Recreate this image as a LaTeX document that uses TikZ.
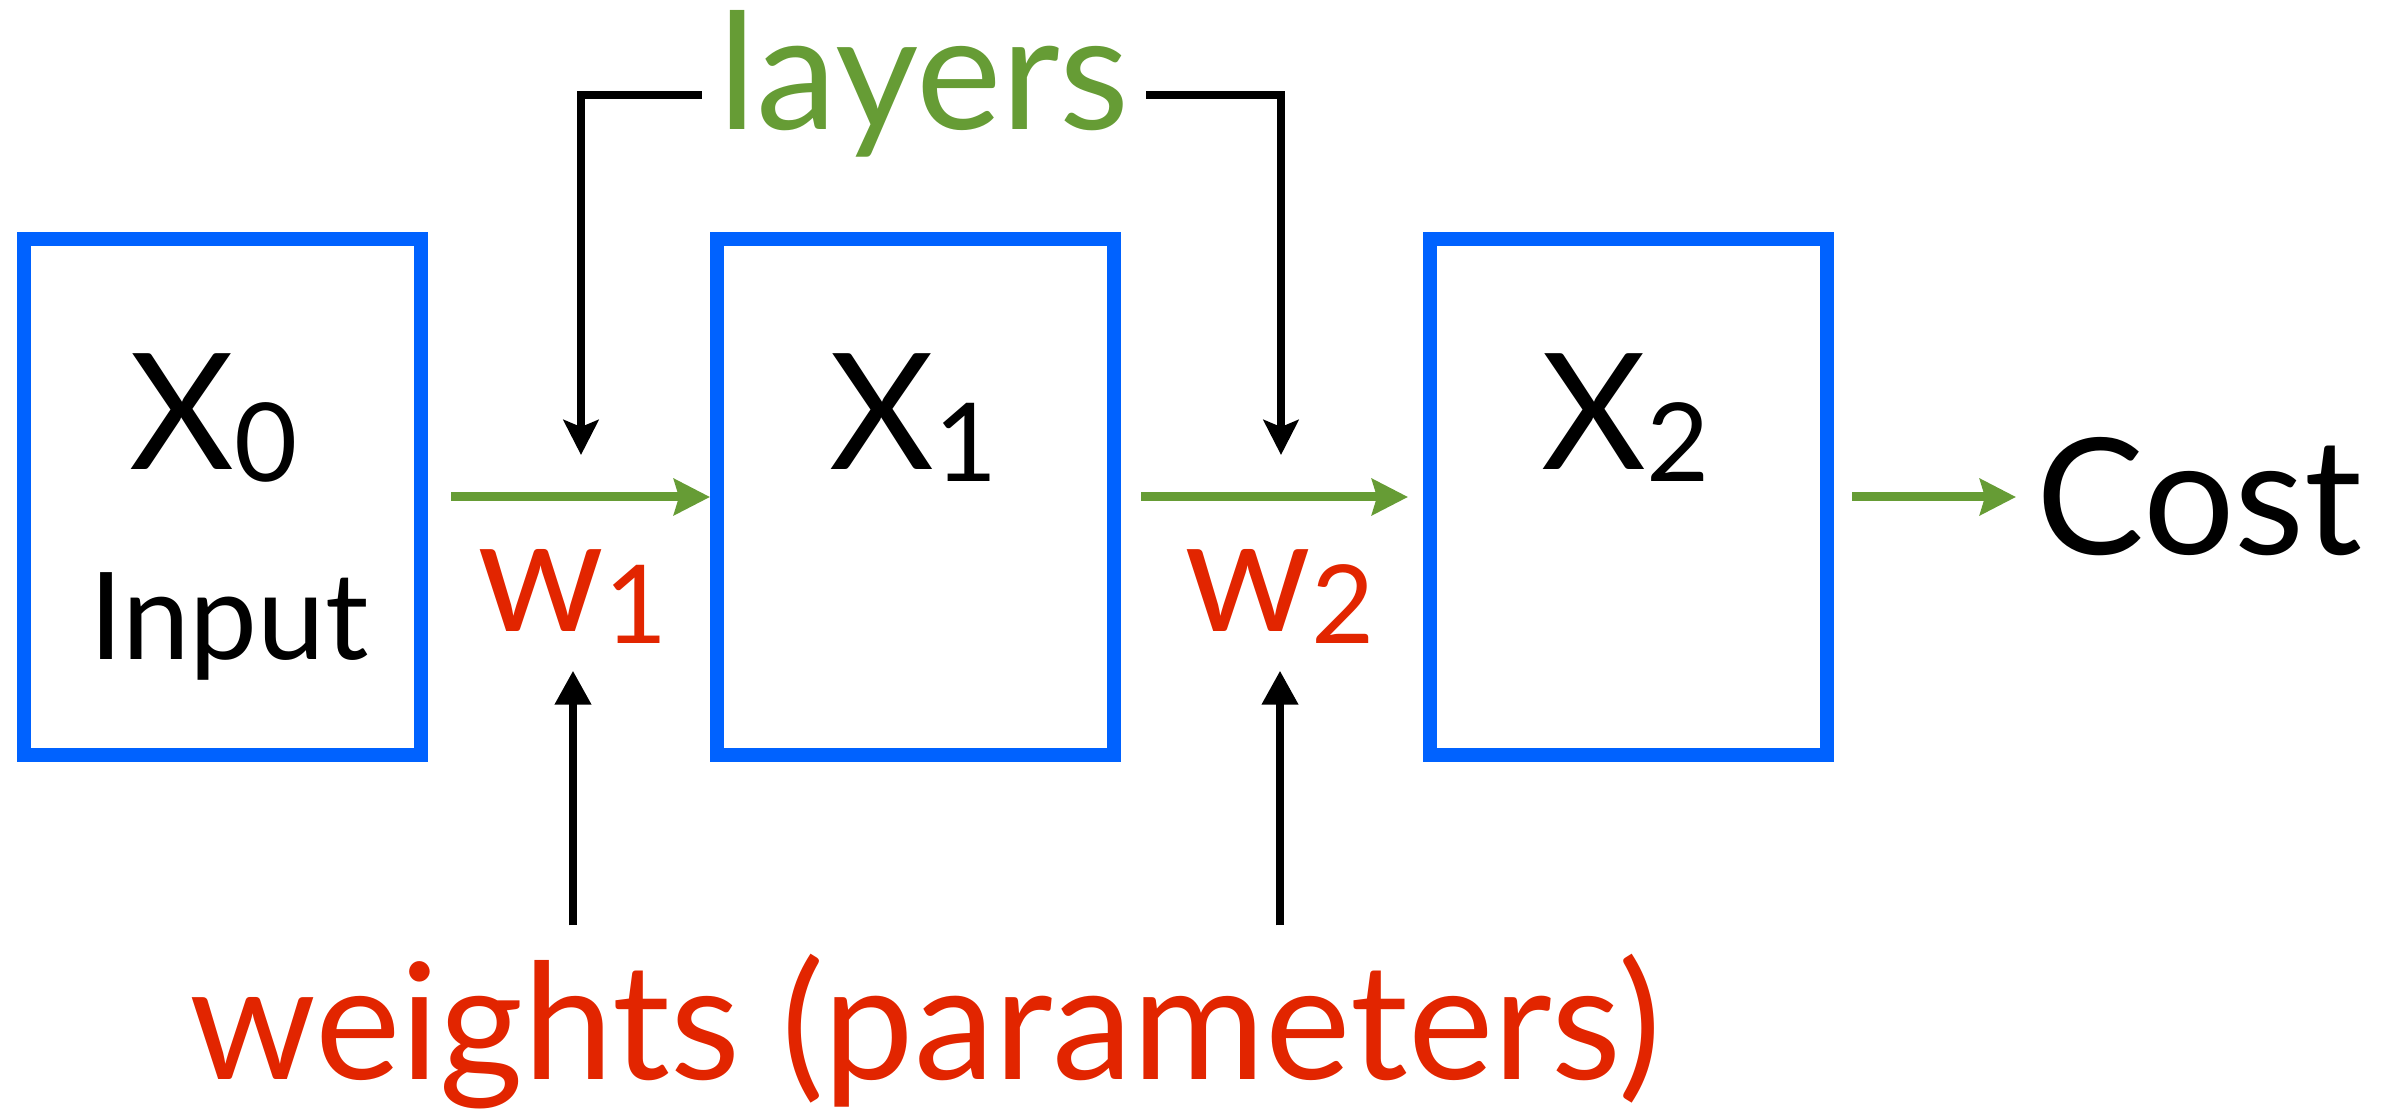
\documentclass[tikz,border=0pt]{standalone}
\usepackage{fontspec}
\setmainfont{Lato}
\usepackage{tikz}
\usetikzlibrary{positioning,arrows.meta,calc}
\definecolor{boxblue}{HTML}{0062FF}
\definecolor{flowgreen}{HTML}{669C35}
\definecolor{wred}{HTML}{E22500}
\newcommand{\xfont}{\fontsize{46}{50}\selectfont}
\newcommand{\xsubfont}{\fontsize{31}{34}\selectfont}
\newcommand{\xsub}[1]{\raisebox{-0.12cm}{\xsubfont #1}}

\begin{document}
\begin{tikzpicture}[
  layerbox/.style={draw=boxblue,line width=0.14cm,minimum width=3.97cm,minimum height=5.16cm,inner sep=0pt},
  lbl/.style={font=\xfont,inner sep=0pt,anchor=base},
  flow/.style={draw=flowgreen,line width=0.09cm,-{Stealth[length=0.36cm,width=0.36cm,inset=0.05cm]}},
  pick/.style={line width=0.075cm,-{Stealth[length=0.35cm,width=0.35cm,inset=0.07cm]}},
  feed/.style={line width=0.075cm,-{Triangle[length=0.34cm,width=0.35cm]}}]
  \useasboundingbox (0,0) rectangle (24.05,11.17);
  % the three layers
  \node[layerbox] (b0) at (2.225,6.20){};
  \node[layerbox] (b1) at (9.155,6.20){};
  \node[layerbox] (b2) at (16.285,6.20){};
  \node[lbl] (x0) at (2.135,6.47){X\xsub{0}};
  \node[lbl] (x1) at (9.14,6.47){X\xsub{1}};
  \node[lbl] (x2) at (16.255,6.47){X\xsub{2}};
  \node[lbl,font=\fontsize{34.5}{38}\selectfont] (inp) at (2.29,4.57){Input};
  \node[lbl,anchor=base west,inner sep=0.2cm] (cost) at (20.16,5.62){Cost};
  % weights
  \node[lbl,wred,inner ysep=0.26cm] (w1) at (5.73,4.85){w\xsub{1}};
  \node[lbl,wred,inner ysep=0.26cm] (w2) at (12.80,4.85){w\xsub{2}};
  \node[lbl,flowgreen,inner xsep=0.16cm,text height=1.0cm,text depth=0.3cm] (lay) at (9.24,9.87){layers};
  \node[lbl,wred,text height=1.16cm,text depth=0pt,inner ysep=0.37cm] (wts) at (9.25,0.38){weights (parameters)};
  % connectors
  \draw[flow] ([xshift=0.23cm]b0.east) -- (b1.west);
  \draw[flow] ([xshift=0.2cm]b1.east) -- ([xshift=-0.15cm]b2.west);
  \draw[flow] ([xshift=0.18cm]b2.east) -- (b2.east -| cost.west);
  \coordinate (t1) at (5.81,6.62);
  \coordinate (t2) at (12.81,6.62);
  \draw[pick] (lay.west) -| (t1);
  \draw[pick] (lay.east) -| (t2);
  \draw[feed] (w1.south |- wts.north) -- (w1.south);
  \draw[feed] (w2.south |- wts.north) -- (w2.south);
\end{tikzpicture}
\end{document}
